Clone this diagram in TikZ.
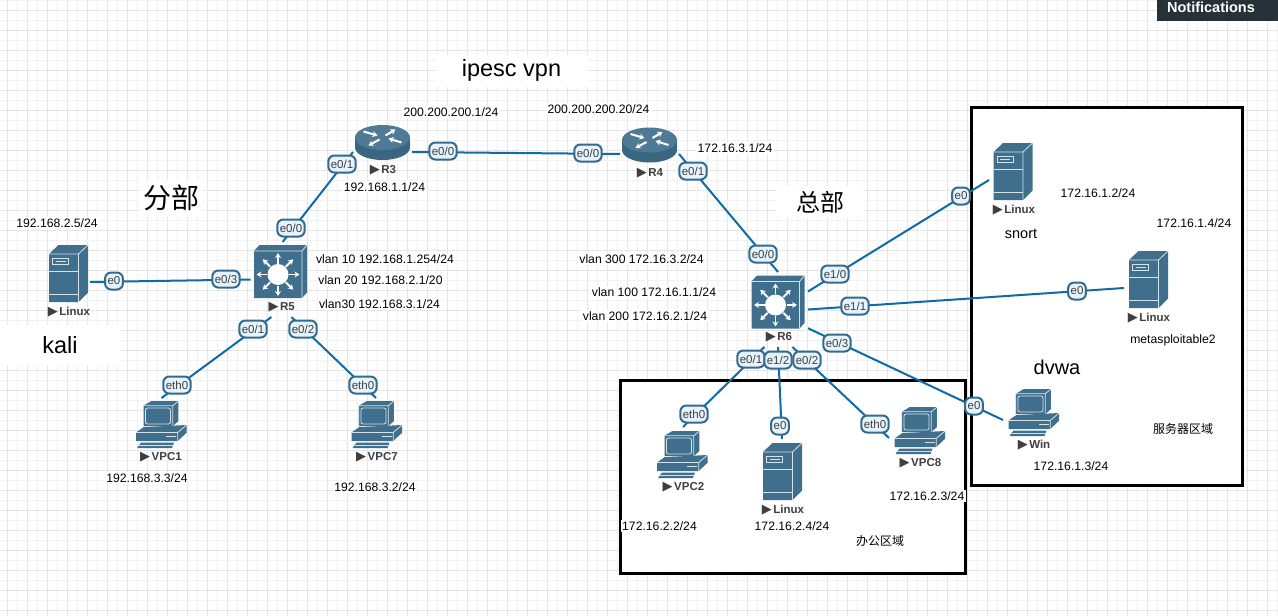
\documentclass[tikz,border=0pt]{standalone}
\usepackage{fontspec}
\setmainfont{Liberation Sans}
\newfontfamily\cjkfont{Noto Sans CJK SC}
\newfontfamily\symbfont{DejaVu Sans}
\usetikzlibrary{arrows.meta}
\definecolor{devblue}{HTML}{3F6F8C}
\definecolor{devedge}{HTML}{D5E3EB}
\definecolor{linkblue}{HTML}{0F6BA8}
\definecolor{portfill}{HTML}{E6F3FC}
\definecolor{portedge}{HTML}{346A8E}
\definecolor{gridmajor}{HTML}{E6E6E6}
\definecolor{gridminor}{HTML}{F2F2F2}
\definecolor{notifdark}{HTML}{263238}
\definecolor{devtext}{HTML}{3F3F3F}
\newcommand{\fsize}[1]{\fontsize{#1}{#1}\selectfont}
\newcommand{\runmark}{{\symbfont\fontsize{13}{13}\selectfont ▶}\hspace{1.5pt}}

\begin{document}
\begin{tikzpicture}[
    x=1pt, y=-1pt,
    % Invisible box that the links end on
    devbox/.style 2 args={
        rectangle,
        inner sep=0pt,
        outer sep=0pt,
        minimum width=#1,
        minimum height=#2
    },
    % Device caption
    devlbl/.style={
        inner sep=0pt,
        text=devtext,
        font=\fsize{11.5}\bfseries
    },
    % Port badge on a link
    port/.style={
        rectangle,
        rounded corners=6pt,
        draw=portedge,
        line width=2pt,
        fill=portfill,
        inner xsep=2.5pt,
        inner ysep=0pt,
        minimum height=17pt,
        text=devtext,
        font=\fsize{11.5}
    },
    % Link style
    link/.style={
        draw=linkblue,
        line width=2pt
    },
    % Address label style
    addr/.style={
        fill=white,
        inner sep=1.5pt,
        font=\fsize{12.2}
    },
    % Big label style
    biglbl/.style={
        fill=white,
        inner sep=0pt,
        font=\fsize{23.5}
    },
    % Zone frame style
    zone/.style={
        draw=black,
        fill=white,
        line width=3pt
    },
    devline/.style={
        draw=devedge,
        line width=0.8pt
    },
    % Tower server icon
    pics/srv/.style={code={
        \fill[devblue] (-19.5,-19.5) -- (-10,-28.5) -- (19.5,-28.5) -- (19.5,19) -- (10,28.5) -- (-19.5,28.5) -- cycle;
        \draw[devline] (-19.5,-19.5) -- (10,-19.5) -- (19.5,-28.5) (10,-19.5) -- (10,28.5);
        \draw[devline] (-19.5,-1.8) -- (10,-1.8) (-19.5,20.8) -- (10,20.8);
        \draw[devline] (-16,-15) rectangle (0,-9.5);
        \draw[devline] (-13,-12.3) -- (-3,-12.3);
    }},
    % Router icon
    pics/router/.style={code={
        \fill[devblue!92!black] (0,5) ellipse [x radius=27.5, y radius=12.5];
        \fill[devblue!92!black] (-27.5,-5) rectangle (27.5,5);
        \fill[devblue!92!white] (0,-5) ellipse [x radius=27.5, y radius=12.5];
        \foreach \ax/\ay/\bx/\by in {-19/-11/-5/-7, 3/-7/13/-13, -3/-3/-14/3, 19/0/6/-4}
            \draw[white, line width=2pt, -{Stealth[length=5pt,width=6pt]}] (\ax,\ay) -- (\bx,\by);
    }},
    % Layer 3 switch icon
    pics/mlswitch/.style={code={
        \fill[devblue] (-26.5,-20.5) -- (-21,-26.5) -- (26.5,-26.5) -- (26.5,21) -- (21.5,26.5) -- (-26.5,26.5) -- cycle;
        \draw[devline] (-26.5,-20.5) -- (21.5,-20.5) -- (26.5,-26.5) (21.5,-20.5) -- (21.5,26.5);
        \fill[white] (-2.5,3) circle [radius=10.5];
        \foreach \ang in {0,45,...,315}
            \draw[white, line width=1.8pt, -{Stealth[length=5pt,width=6pt]}] ({-2.5+11*cos(\ang)},{3+11*sin(\ang)}) -- ({-2.5+21.5*cos(\ang)},{3+21.5*sin(\ang)});
    }},
    % Desktop icon
    pics/desktop/.style={code={
        \fill[devblue] (-17.7,-18.7) -- (-10,-23.3) -- (17.3,-23.3) -- (17.3,-3.3) -- (11.7,1.7) -- (-17.7,1.7) -- cycle;
        \draw[devline] (-17.7,1.7) -- (-17.7,-18.7) -- (11.7,-18.7) -- (17.3,-23.3) (11.7,-18.7) -- (11.7,1.7);
        \draw[devline, rounded corners=2pt] (-15.5,-16.5) rectangle (9.5,-0.5);
        \fill[devblue] (-25,8) -- (-17.3,2.6) -- (25.5,0.5) -- (25.5,8.3) -- (16.7,16.5) -- (-25,16.5) -- cycle;
        \draw[devline] (-25,8) -- (16.7,8) -- (25.5,0.5) (16.7,8) -- (16.7,16.5);
        \draw[devline, line width=1.4pt] (5,11.8) -- (15,11.8);
        \fill[devblue] (-24,23.5) -- (-20,18) -- (13,18) -- (11,23.5) -- cycle;
        \draw[devline] (-22,21) -- (12,21);
    }}
]

\useasboundingbox (0,0) rectangle (1278,616);

% === Background grid ===
\fill[white] (0,0) rectangle (1278,616);
\foreach \k in {0,...,63} {
    \draw[gridminor, line width=1pt] ({17.5+20*\k},0) -- ({17.5+20*\k},616);
    \draw[gridmajor, line width=1pt] ({7.5+20*\k},0) -- ({7.5+20*\k},616);
}
\foreach \k in {0,...,31} {
    \draw[gridminor, line width=1pt] (0,{0.5+20*\k}) -- (1278,{0.5+20*\k});
    \draw[gridmajor, line width=1pt] (0,{10.5+20*\k}) -- (1278,{10.5+20*\k});
}

% === Top bar ===
\node[rectangle, fill=notifdark, minimum width=121pt, minimum height=21pt, inner sep=0pt] (notifbar) at (1217.5,10.5) {};
\node[inner sep=0pt, text=white, font=\fsize{14.5}\bfseries] (notif) at (1211,7) {Notifications};

% === Zones ===
\node[zone, rectangle, minimum width=345pt, minimum height=192.5pt, inner sep=0pt] (officezone) at (793,476.8) {};
\node[zone, rectangle, minimum width=271pt, minimum height=378.5pt, inner sep=0pt] (serverzone) at (1107,296.4) {};

% === Labels ===
\node[biglbl, minimum width=63pt, minimum height=37pt, font=\fsize{28}\cjkfont] (branch) at (171.5,198) {分部};
\node[biglbl, minimum width=88pt, minimum height=32pt, font=\fsize{24}\cjkfont] (hq) at (820,202) {总部};
\node[biglbl, minimum width=152pt, minimum height=32pt] (vpn) at (511.5,70.5) {ipesc vpn};
\node[biglbl, minimum width=120pt, minimum height=40pt] (kalilbl) at (60,345) {kali};
\node[biglbl, font=\fsize{20}] (dvwa) at (1057,367.5) {dvwa};
\node[addr, font=\fsize{14.5}] (snortlbl) at (1021,233.5) {snort};
\node[addr, font=\fsize{12.2}] (metalbl) at (1173,340) {metasploitable2};
\node[addr, font=\fsize{12}\cjkfont] (serverlbl) at (1183,429) {服务器区域};
\node[addr, font=\fsize{12}\cjkfont] (officelbl) at (880,541) {办公区域};

\node[addr] (a1) at (57,223) {192.168.2.5/24};
\node[addr] (a2) at (451,112) {200.200.200.1/24};
\node[addr] (a3) at (598.5,109) {200.200.200.20/24};
\node[addr] (a4) at (735,148) {172.16.3.1/24};
\node[addr] (a5) at (384.5,187) {192.168.1.1/24};
\node[addr] (a6) at (385,259) {vlan 10 192.168.1.254/24};
\node[addr] (a7) at (380.5,280) {vlan 20 192.168.2.1/20};
\node[addr] (a8) at (379.5,304) {vlan30 192.168.3.1/24};
\node[addr] (a9) at (641.5,259) {vlan 300 172.16.3.2/24};
\node[addr] (a10) at (654,292) {vlan 100 172.16.1.1/24};
\node[addr] (a11) at (645,316) {vlan 200 172.16.2.1/24};
\node[addr] (a12) at (147,478) {192.168.3.3/24};
\node[addr] (a13) at (375,487) {192.168.3.2/24};
\node[addr] (a14) at (1098,193) {172.16.1.2/24};
\node[addr] (a15) at (1194,223) {172.16.1.4/24};
\node[addr] (a16) at (1071,466) {172.16.1.3/24};
\node[addr] (a17) at (927,496) {172.16.2.3/24};
\node[addr] (a18) at (659.5,526) {172.16.2.2/24};
\node[addr] (a19) at (792,526) {172.16.2.4/24};

% === Devices ===
\pic at (382.5,142.5) {router};
\node[devbox={59}{50}] (R3) at (382.5,152) {};
\node[devlbl] (R3lbl) at (383,170) {\runmark R3};

\pic at (649.5,145) {router};
\node[devbox={59}{50}] (R4) at (649.5,154) {};
\node[devlbl] (R4lbl) at (650,173) {\runmark R4};

\pic at (280.5,271.5) {mlswitch};
\node[devbox={59}{75}] (R5) at (280,279.5) {};
\node[devlbl] (R5lbl) at (281.7,307) {\runmark R5};

\pic at (778,302) {mlswitch};
\node[devbox={60}{75}] (R6) at (778,309.5) {};
\node[devlbl] (R6lbl) at (779,337) {\runmark R6};

\pic at (68.5,273.5) {srv};
\node[devbox={43}{60}] (kali) at (68.5,282) {};
\node[devlbl] (kalidev) at (69,312) {\runmark Linux};

\pic at (1013,171.5) {srv};
\node[devbox={48}{60}] (snort) at (1013,180) {};
\node[devlbl] (snortdev) at (1014,210) {\runmark Linux};

\pic at (1148.5,279.5) {srv};
\node[devbox={49}{60}] (meta) at (1148.5,288) {};
\node[devlbl] (metadev) at (1149,318) {\runmark Linux};

\pic at (782.5,471.5) {srv};
\node[devbox={44}{64}] (linuxB) at (782,471) {};
\node[devlbl] (linuxBdev) at (783,510) {\runmark Linux};

\pic at (161,424.5) {desktop};
\node[devbox={52}{52}] (VPC1) at (161.5,424) {};
\node[devlbl] (VPC1lbl) at (161,457) {\runmark VPC1};

\pic at (376.5,424.5) {desktop};
\node[devbox={52}{52}] (VPC7) at (376,424) {};
\node[devlbl] (VPC7lbl) at (377,457) {\runmark VPC7};

\pic at (682,454.5) {desktop};
\node[devbox={52}{54}] (VPC2) at (683,454) {};
\node[devlbl] (VPC2lbl) at (683.5,487) {\runmark VPC2};

\pic at (919.5,430.5) {desktop};
\node[devbox={61}{40}] (VPC8) at (919.5,438) {};
\node[devlbl] (VPC8lbl) at (920.5,463) {\runmark VPC8};

\pic at (1033.5,412.5) {desktop};
\node[devbox={61}{40}] (win) at (1033.5,420) {};
\node[devlbl] (winlbl) at (1034,445) {\runmark Win};

% === Links ===
\draw[link] (kali.east) -- (R5.west);
\draw[link] (R5.86) -- (R3.west);
\draw[link] (R3.east) -- (R4.west);
\draw[link] (R4.east) -- (R6.north);
\draw[link] (R5.257) -- (VPC1.north);
\draw[link] (R5.287) -- (VPC7.north);
\draw[link] (R6.31.7) -- (snort.west);
\draw[link] (R6.east) -- (meta.west);
\draw[link] (R6.328.3) -- (win.west);
\draw[link] (R6.250.9) -- (VPC2.north);
\draw[link] (R6.south) -- (linuxB.north);
\draw[link] (R6.291.8) -- (VPC8.west);

% === Ports ===
\node[port] (p1) at (114,281) {e0};
\node[port] (p2) at (226,279) {e0/3};
\node[port] (p3) at (291,228) {e0/0};
\node[port] (p4) at (342,164) {e0/1};
\node[port] (p5) at (443,151) {e0/0};
\node[port] (p6) at (588,153) {e0/0};
\node[port] (p7) at (693,171) {e0/1};
\node[port] (p8) at (763,254) {e0/0};
\node[port] (p9) at (253,329) {e0/1};
\node[port] (p10) at (303,329) {e0/2};
\node[port] (p11) at (177,385) {eth0};
\node[port] (p12) at (363,385) {eth0};
\node[port] (p13) at (835,274) {e1/0};
\node[port] (p14) at (855,306) {e1/1};
\node[port] (p15) at (837,343) {e0/3};
\node[port] (p16) at (961,196) {e0};
\node[port] (p17) at (1077,291) {e0};
\node[port] (p18) at (974,406) {e0};
\node[port] (p19) at (751,359) {e0/1};
\node[port] (p20) at (778,360) {e1/2};
\node[port] (p21) at (807,360) {e0/2};
\node[port] (p22) at (694,414) {eth0};
\node[port] (p23) at (780,426) {e0};
\node[port] (p24) at (875,424) {eth0};

\end{tikzpicture}
\end{document}
